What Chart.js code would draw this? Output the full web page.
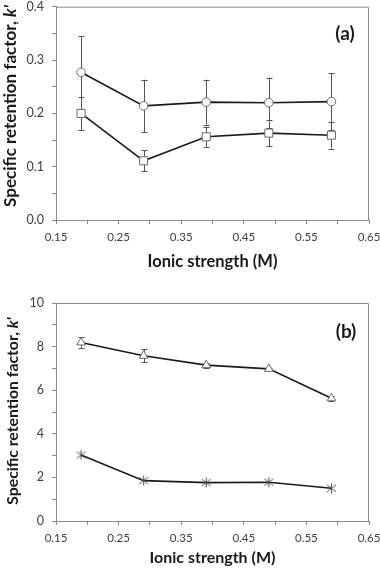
<!DOCTYPE html>
<html>
<head>
<meta charset="utf-8">
<script src="https://cdn.jsdelivr.net/npm/chart.js@4.4.1/dist/chart.umd.min.js"></script>
<style>
    html, body { margin: 0; padding: 0; background: #fff; }
    canvas { position: absolute; left: 0; }
    #chartA { top: 0; }
    #chartB { top: 285px; }
</style>
</head>
<body>
<canvas id="chartA" width="380" height="285"></canvas>
<canvas id="chartB" width="380" height="284"></canvas>
<script>
// values
const ionicStrength = [0.19, 0.29, 0.39, 0.49, 0.59];

const circleK = [0.277, 0.214, 0.221, 0.220, 0.222];
const circleErr = [0.068, 0.049, 0.042, 0.047, 0.053];
const squareK = [0.200, 0.111, 0.156, 0.163, 0.159];
const squareErr = [0.031, 0.020, 0.019, 0.025, 0.025];

const triangleK = [8.19, 7.58, 7.15, 6.98, 5.63];
const triangleErr = [0.25, 0.30, 0.12, 0.06, 0.12];
const starK = [3.03, 1.85, 1.76, 1.78, 1.50];

const xTicks = [0.15, 0.20, 0.25, 0.30, 0.35, 0.40, 0.45, 0.50, 0.55, 0.60, 0.65];
const xTickLabels = ["0.15", "0.25", "0.35", "0.45", "0.55", "0.65"];
const yTicksA = [0, 0.05, 0.1, 0.15, 0.2, 0.25, 0.3, 0.35, 0.4];
const yTickLabelsA = ["0.0", "0.1", "0.2", "0.3", "0.4"];
const yTicksB = [0, 1, 2, 3, 4, 5, 6, 7, 8, 9, 10];
const yTickLabelsB = ["0", "2", "4", "6", "8", "10"];

const FONT = "Lato";
const AXIS_GREY = "#8c8c8c";
const MARKER_GREY = "#6a6a6a";

// asterisk marker (X plus vertical stroke)
function makeAsterisk() {
    const c = document.createElement("canvas");
    c.width = 11;
    c.height = 11;
    const g = c.getContext("2d");
    g.strokeStyle = "#555";
    g.lineWidth = 1;
    g.beginPath();
    g.moveTo(5.5, 0.5); g.lineTo(5.5, 10.5);
    g.moveTo(1, 2); g.lineTo(10, 9);
    g.moveTo(10, 2); g.lineTo(1, 9);
    g.stroke();
    return c;
}

function points(ys) {
    return ionicStrength.map((x, i) => ({ x: x, y: ys[i] }));
}

const decor = {
    id: "decor",
    beforeDatasetsDraw(chart) {
        const ctx = chart.ctx;
        const yScale = chart.scales.y;
        ctx.save();
        ctx.strokeStyle = "#555";
        ctx.lineWidth = 1;
        chart.data.datasets.forEach((ds, di) => {
            if (!ds.errors) return;
            const meta = chart.getDatasetMeta(di);
            meta.data.forEach((pt, i) => {
                const v = ds.data[i].y;
                const e = ds.errors[i];
                const x = Math.round(pt.x) + 0.5;
                const y1 = yScale.getPixelForValue(v + e);
                const y2 = yScale.getPixelForValue(v - e);
                ctx.beginPath();
                ctx.moveTo(x, y1); ctx.lineTo(x, y2);
                ctx.moveTo(x - 3, Math.round(y1) + 0.5); ctx.lineTo(x + 3, Math.round(y1) + 0.5);
                ctx.moveTo(x - 3, Math.round(y2) + 0.5); ctx.lineTo(x + 3, Math.round(y2) + 0.5);
                ctx.stroke();
            });
        });
        ctx.restore();
    },
    afterDraw(chart, args, opts) {
        const ctx = chart.ctx;
        const a = chart.chartArea;
        ctx.save();

        // frame top and right
        ctx.strokeStyle = AXIS_GREY;
        ctx.lineWidth = 1;
        ctx.beginPath();
        ctx.moveTo(a.left, a.top + 0.5);
        ctx.lineTo(a.right - 0.5, a.top + 0.5);
        ctx.lineTo(a.right - 0.5, a.bottom);
        ctx.stroke();

        // panel label
        ctx.fillStyle = "#1a1a1a";
        ctx.font = "bold 19px " + FONT;
        ctx.textAlign = "center";
        ctx.textBaseline = "middle";
        ctx.fillText(opts.panel, opts.panelX, opts.panelY);

        // y axis title with italic k'
        const parts = [
            { t: "Specific retention factor, ", f: "bold " + opts.titleSize + "px " + FONT },
            { t: "k'", f: "italic bold " + opts.titleSize + "px " + FONT },
        ];
        let total = 0;
        for (let p of parts) {
            ctx.font = p.f;
            p.w = ctx.measureText(p.t).width;
            total += p.w;
        }
        ctx.translate(opts.titleX, opts.titleY);
        ctx.rotate(-Math.PI / 2);
        ctx.textAlign = "left";
        let x = -total / 2;
        for (let p of parts) {
            ctx.font = p.f;
            ctx.fillText(p.t, x, 0);
            x += p.w;
        }
        ctx.restore();
    },
};

function makeOptions(cfg) {
    return {
        responsive: false,
        animation: false,
        devicePixelRatio: 1,
        layout: { padding: { top: cfg.padTop, right: 11, left: 0, bottom: 0 } },
        plugins: {
            legend: { display: false },
            tooltip: { enabled: false },
            decor: cfg.decor,
        },
        scales: {
            x: {
                type: "linear",
                min: 0.15,
                max: 0.65,
                afterBuildTicks: (s) => { s.ticks = xTicks.map((v) => ({ value: v })); },
                afterFit: (s) => {
                    s.height = cfg.xHeight;
                    s.paddingLeft = 0;
                    s.paddingRight = 0;
                },
                ticks: {
                    autoSkip: false,
                    maxRotation: 0,
                    padding: 6,
                    color: "#404040",
                    font: { family: FONT, size: 11.5 },
                    callback: (v, i) => (i % 2 === 0 ? xTickLabels[i / 2] : ""),
                },
                grid: { drawOnChartArea: false, tickLength: 4, color: AXIS_GREY },
                border: { color: AXIS_GREY },
                title: {
                    display: true,
                    text: "Ionic strength (M)",
                    color: "#1a1a1a",
                    font: { family: FONT, size: cfg.xTitleSize, weight: "bold" },
                    padding: { top: 0, bottom: cfg.titlePad },
                },
            },
            y: {
                type: "linear",
                min: cfg.yTicks[0],
                max: cfg.yTicks[cfg.yTicks.length - 1],
                afterBuildTicks: (s) => { s.ticks = cfg.yTicks.map((v) => ({ value: v })); },
                afterFit: (s) => {
                    s.width = 56;
                    s.paddingTop = 0;
                    s.paddingBottom = 0;
                },
                ticks: {
                    autoSkip: false,
                    padding: 8,
                    color: "#404040",
                    font: { family: FONT, size: 12.5 },
                    callback: (v, i) => (i % 2 === 0 ? cfg.yLabels[i / 2] : ""),
                },
                grid: { drawOnChartArea: false, tickLength: 4, color: AXIS_GREY },
                border: { color: AXIS_GREY },
            },
        },
    };
}

function lineSet(label, ys, style, radius, errors) {
    return {
        label: label,
        data: points(ys),
        errors: errors,
        showLine: true,
        borderColor: "#1a1a1a",
        borderWidth: 1.6,
        pointStyle: style,
        pointRadius: radius,
        pointBorderColor: MARKER_GREY,
        pointBackgroundColor: "#ffffff",
        pointBorderWidth: 1,
    };
}

new Chart(document.getElementById("chartA"), {
    type: "scatter",
    data: {
        datasets: [
            lineSet("circle", circleK, "circle", 4.3, circleErr),
            lineSet("square", squareK, "rect", 5.7, squareErr),
        ],
    },
    options: makeOptions({
        padTop: 4,
        xHeight: 65,
        titlePad: 13,
        xTitleSize: 16.5,
        yTicks: yTicksA,
        yLabels: yTickLabelsA,
        decor: { panel: "(a)", panelX: 345, panelY: 34, titleX: 11, titleY: 106, titleSize: 17 },
    }),
    plugins: [decor],
});

new Chart(document.getElementById("chartB"), {
    type: "scatter",
    data: {
        datasets: [
            lineSet("triangle", triangleK, "triangle", 5, triangleErr),
            lineSet("star", starK, makeAsterisk(), 5, null),
        ],
    },
    options: makeOptions({
        padTop: 18,
        xHeight: 48,
        titlePad: 2,
        xTitleSize: 16,
        yTicks: yTicksB,
        yLabels: yTickLabelsB,
        decor: { panel: "(b)", panelX: 346, panelY: 47, titleX: 13, titleY: 126, titleSize: 15.8 },
    }),
    plugins: [decor],
});
</script>
</body>
</html>
